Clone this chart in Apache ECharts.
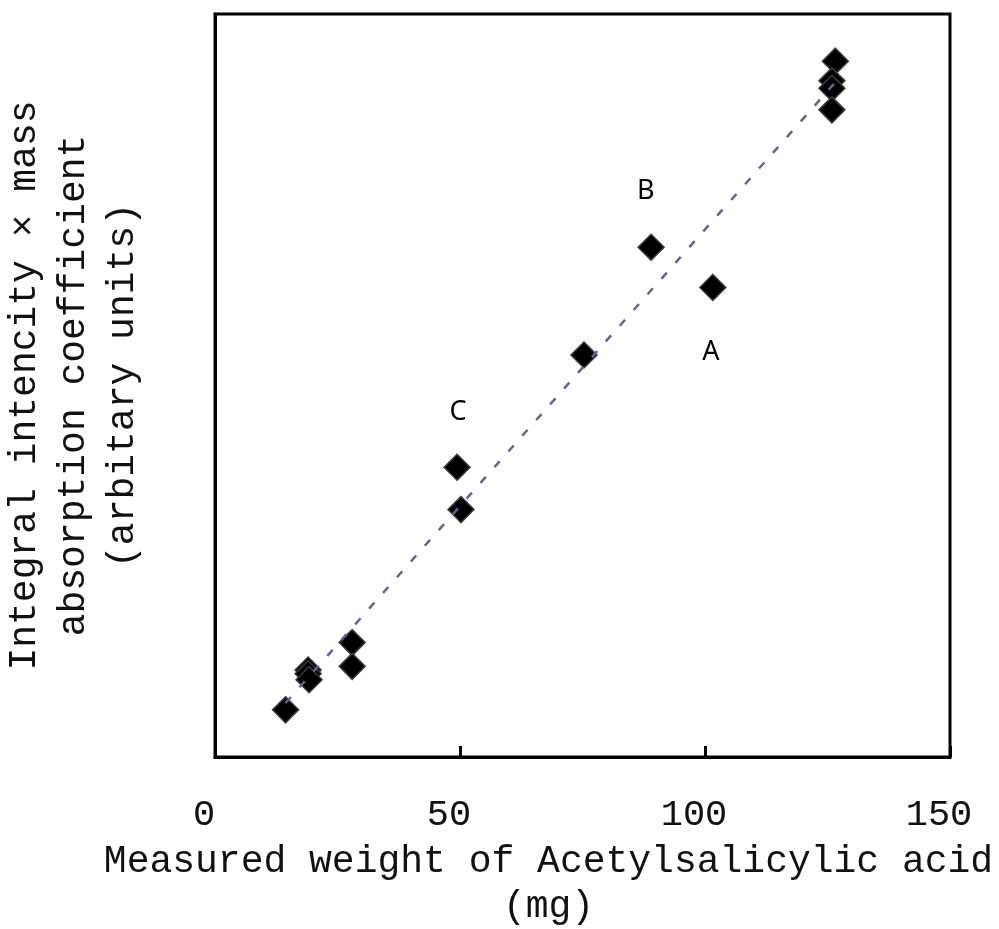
<!DOCTYPE html>
<html>
<head>
<meta charset="utf-8">
<script src="https://cdn.jsdelivr.net/npm/echarts@6/dist/echarts.min.js"></script>
<style>
html,body{margin:0;padding:0;background:#fff;}
#chart{width:999px;height:929px;}
</style>
</head>
<body>
<div id="chart"></div>
<script>
// Measured weight (mg)
const xValues = [14.4, 19.0, 19.0, 19.2, 28.0, 28.0, 49.4, 50.2, 75.3, 89.0, 101.6, 126.6, 125.9, 125.9, 125.9];
// Integral intensity x mass absorption coefficient (arbitrary units)
const yValues = [6.35, 11.7, 11.2, 10.4, 15.4, 12.2, 39.0, 33.3, 54.1, 68.6, 63.2, 93.65, 91.0, 90.0, 87.1];
// Linear trend line end points
const trendX = [14.4, 126.6];
const trendY = [7.27, 90.8];
// Annotations
const noteNames = ['A', 'B', 'C'];
const noteX = [101.2, 87.9, 49.6];
const noteY = [54.4, 76.1, 46.4];
// Axis ticks
const xTicks = [0, 50, 100, 150];

const monoFont = "'Courier New', 'Liberation Mono', monospace";

const chart = echarts.init(document.getElementById('chart'), null, {renderer: 'canvas'});
chart.setOption({
  animation: false,
  backgroundColor: '#ffffff',
  grid: {
    left: 215, right: 49, top: 14, bottom: 172,
    containLabel: false,
    outerBoundsMode: 'none',
    show: true, borderColor: '#000', borderWidth: 3, backgroundColor: 'transparent'
  },
  xAxis: {
    type: 'value',
    min: xTicks[0], max: xTicks[xTicks.length - 1], interval: 50,
    name: 'Measured weight of Acetylsalicylic acid\n(mg)',
    nameLocation: 'middle',
    nameGap: 82,
    nameTextStyle: {
      fontFamily: monoFont, fontSize: 38, color: '#111', lineHeight: 45,
      padding: [0, 68, 0, 0]
    },
    axisLine: {show: true, lineStyle: {color: '#000', width: 3}},
    axisTick: {show: true, inside: true, length: 11, lineStyle: {color: '#000', width: 3}},
    axisLabel: {
      show: true, margin: 40, fontFamily: monoFont, fontSize: 37, color: '#111',
      padding: [0, 22, 0, 0]
    },
    splitLine: {show: false}
  },
  yAxis: {
    type: 'value',
    min: 0, max: 100,
    name: 'Integral intencity × mass\nabsorption coefficient\n(arbitary units)',
    nameLocation: 'middle',
    nameRotate: 90,
    nameGap: 68,
    nameTextStyle: {
      fontFamily: monoFont, fontSize: 38, color: '#111', lineHeight: 49,
      align: 'center'
    },
    axisLine: {show: true, lineStyle: {color: '#000', width: 3}},
    axisTick: {show: false},
    axisLabel: {show: false},
    splitLine: {show: false}
  },
  series: [
    {
      type: 'scatter',
      data: xValues.map((x, i) => [x, yValues[i]]),
      symbol: 'diamond',
      symbolSize: 26,
      itemStyle: {color: '#000', borderColor: '#3c3c3c', borderWidth: 1.5, opacity: 1},
      z: 2
    },
    {
      type: 'line',
      data: trendX.map((x, i) => [x, trendY[i]]),
      symbol: 'none',
      lineStyle: {color: '#62629e', width: 2.5, type: [8, 13], opacity: 1},
      z: 3
    },
    {
      type: 'scatter',
      data: noteX.map((x, i) => ({value: [x, noteY[i]], name: noteNames[i]})),
      symbolSize: 0,
      itemStyle: {opacity: 1},
      label: {
        show: true, position: 'inside', formatter: p => p.name,
        fontFamily: "'Noto Sans', 'Open Sans', sans-serif", fontSize: 27, color: '#000'
      },
      z: 4
    }
  ]
});
</script>
</body>
</html>
